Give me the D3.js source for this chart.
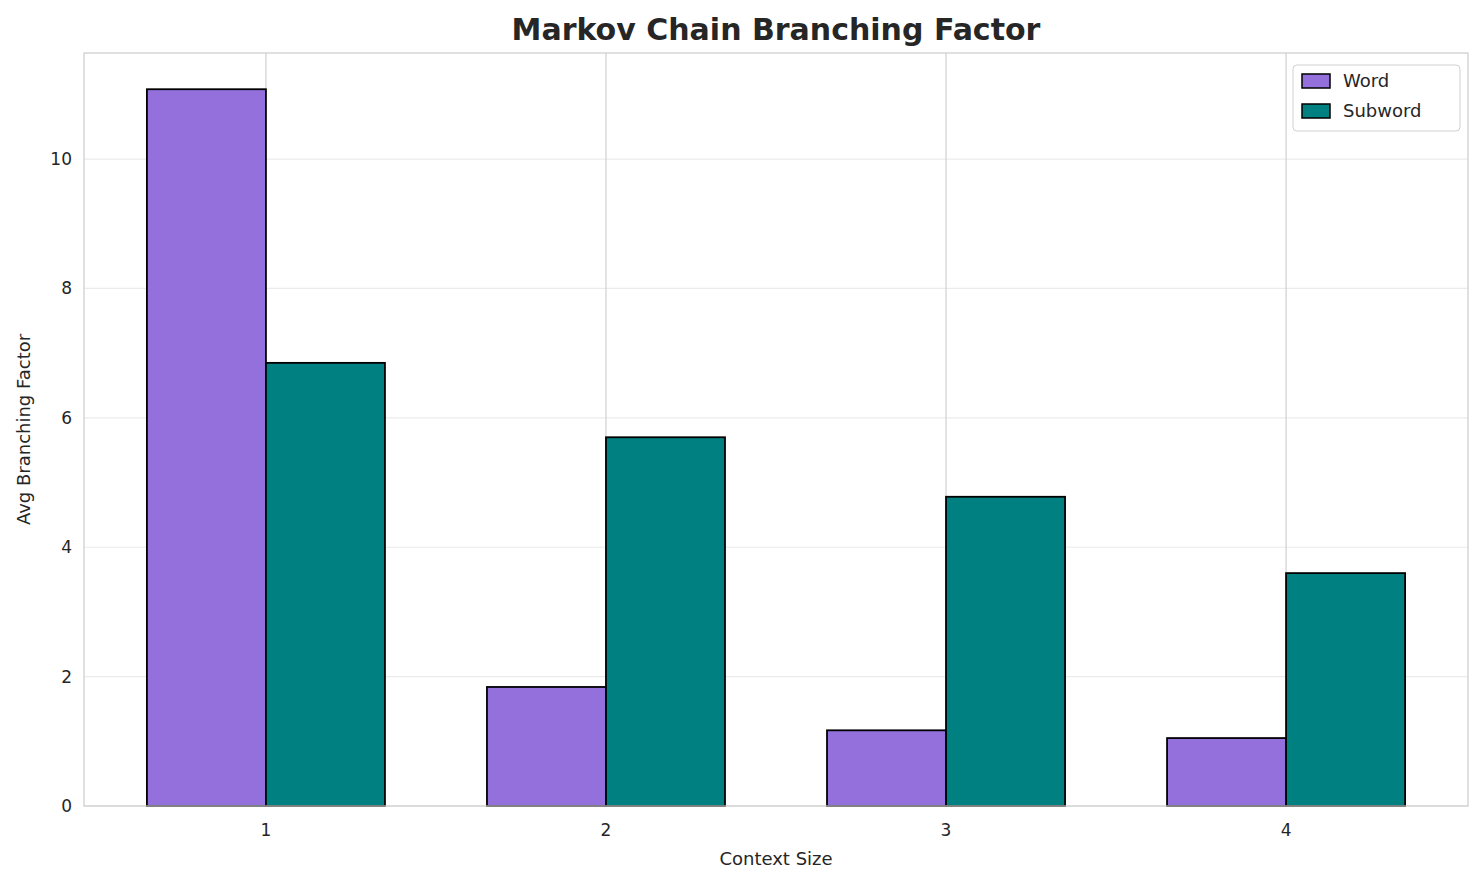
<!DOCTYPE html>
<html><head><meta charset="utf-8">
<script src="https://cdn.jsdelivr.net/npm/d3@7"></script>
<style>body{margin:0;background:#fff;font-family:"DejaVu Sans",sans-serif}</style>
</head><body><svg id="c" width="1484" height="885"></svg>
<script>
const contextSizes = [1, 2, 3, 4];
const wordValues = [11.08, 1.84, 1.17, 1.05];
const subwordValues = [6.85, 5.70, 4.78, 3.60];
const seriesNames = ["Word", "Subword"];
const seriesColors = ["#9370db", "#008080"];
const yTicks = [0, 2, 4, 6, 8, 10];

(function () {
const svg = d3.select("#c");
const pL = 84, pR = 1468, pT = 53, pB = 806;
const x = d3.scaleLinear().domain([0.465, 4.535]).range([pL, pR]);
const y = d3.scaleLinear().domain([0, 11.64]).range([pB, pT]);
const bw = x(1.35) - x(1);

// grid
svg.append("g").selectAll("line").data(yTicks).join("line")
  .attr("x1", pL).attr("x2", pR).attr("y1", d => y(d)).attr("y2", d => y(d))
  .attr("stroke", "#ebebeb").attr("stroke-width", 1.2);
svg.append("g").selectAll("line").data(contextSizes).join("line")
  .attr("x1", d => x(d)).attr("x2", d => x(d)).attr("y1", pT).attr("y2", pB)
  .attr("stroke", "#d0d0d0").attr("stroke-width", 1.2);

// bars
const series = [wordValues, subwordValues];
series.forEach((vals, s) => {
  svg.append("g").selectAll("rect").data(vals).join("rect")
    .attr("x", (d, i) => x(contextSizes[i]) - bw + s * bw)
    .attr("width", bw)
    .attr("y", d => y(d)).attr("height", d => y(0) - y(d))
    .attr("fill", seriesColors[s]).attr("stroke", "#000").attr("stroke-width", 1.8);
});

// frame
svg.append("rect").attr("x", pL).attr("y", pT).attr("width", pR - pL).attr("height", pB - pT)
  .attr("fill", "none").attr("stroke", "#cccccc").attr("stroke-width", 1.2);

// axes labels
svg.append("g").selectAll("text").data(yTicks).join("text")
  .attr("x", pL - 12).attr("y", d => y(d) + 6).attr("text-anchor", "end")
  .attr("font-size", 17).attr("fill", "#262626").text(d => d);
svg.append("g").selectAll("text").data(contextSizes).join("text")
  .attr("x", d => x(d)).attr("y", pB + 30).attr("text-anchor", "middle")
  .attr("font-size", 17).attr("fill", "#262626").text(d => d);
svg.append("text").attr("x", (pL + pR) / 2).attr("y", 865).attr("text-anchor", "middle")
  .attr("font-size", 18).attr("fill", "#262626").text("Context Size");
svg.append("text").attr("transform", `translate(30,${(pT + pB) / 2}) rotate(-90)`)
  .attr("text-anchor", "middle").attr("font-size", 18).attr("fill", "#262626").text("Avg Branching Factor");
svg.append("text").attr("x", (pL + pR) / 2).attr("y", 40).attr("text-anchor", "middle")
  .attr("font-size", 30).attr("font-weight", "bold").attr("fill", "#262626").text("Markov Chain Branching Factor");

// legend
const lg = svg.append("g").attr("transform", "translate(1293,65)");
lg.append("rect").attr("width", 167).attr("height", 66).attr("rx", 4)
  .attr("fill", "#fff").attr("fill-opacity", 0.8).attr("stroke", "#d0d0d0");
seriesNames.forEach((n, i) => {
  lg.append("rect").attr("x", 9).attr("y", 9 + i * 30).attr("width", 28).attr("height", 14)
    .attr("fill", seriesColors[i]).attr("stroke", "#000").attr("stroke-width", 1.5);
  lg.append("text").attr("x", 50).attr("y", 22 + i * 30).attr("font-size", 18)
    .attr("fill", "#262626").text(n);
});
})();
</script></body></html>
